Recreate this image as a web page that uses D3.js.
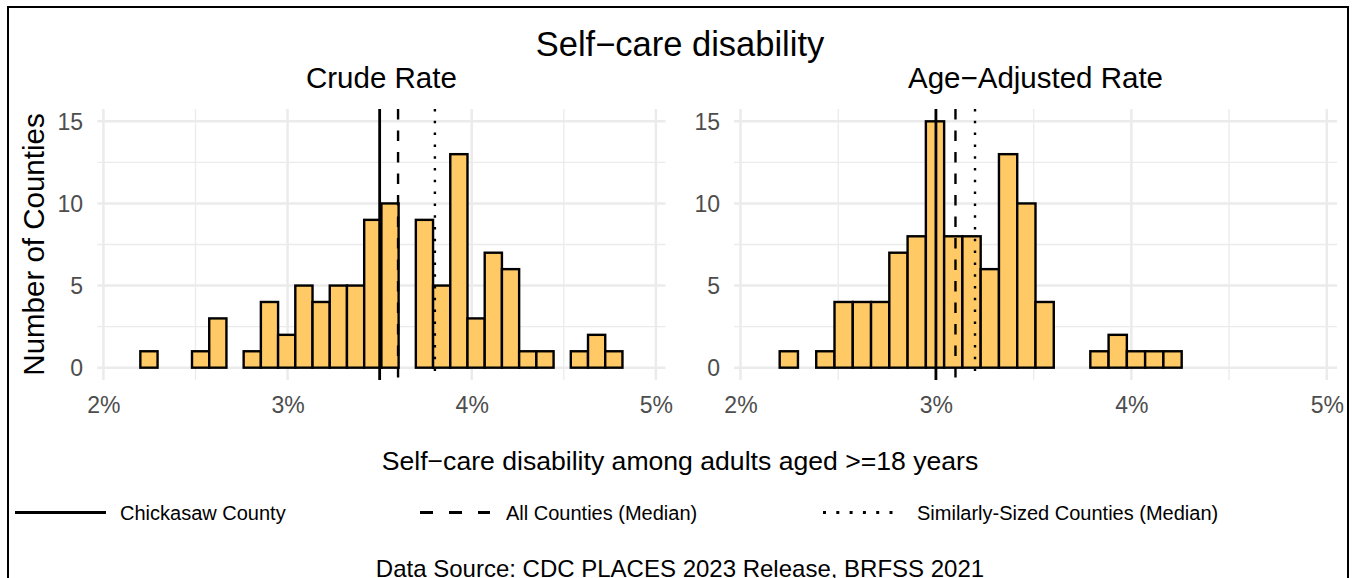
<!DOCTYPE html>
<html>
<head>
<meta charset="utf-8">
<script src="https://cdn.jsdelivr.net/npm/d3@7"></script>
<style>
  html, body { margin: 0; padding: 0; background: #fff; }
  svg { display: block; font-family: "Liberation Sans", Arial, sans-serif; }
</style>
</head>
<body>
<svg id="chart" width="1353" height="578"></svg>
<script>
// ---- data ----
const chartTitle = "Self\u2212care disability";
const panelTitles = ["Crude Rate", "Age\u2212Adjusted Rate"];
const binMin = 2.107;
const binMax = 4.912;
const binCountN = 30;
const crudeCounts = [0,1,0,0,1,3,0,1,4,2,5,4,5,5,9,10,0,9,5,13,3,7,6,1,1,0,1,2,1,0];
const ageAdjCounts = [0,1,0,1,4,4,4,7,8,15,8,8,6,13,10,4,0,0,1,2,1,1,1,0,0,0,0,0,0,0];
const crudeRefs = [3.5, 3.6, 3.8];      // county, all median, similar median
const ageAdjRefs = [3.0, 3.1, 3.2];
const xTicks = [2, 3, 4, 5];
const xMinor = [2.5, 3.5, 4.5];
const yTicks = [0, 5, 10, 15];
const yMinor = [2.5, 7.5, 12.5];
const legendLabels = ["Chickasaw County", "All Counties (Median)", "Similarly-Sized Counties (Median)"];
const xTitle = "Self\u2212care disability among adults aged >=18 years";
const yTitle = "Number of Counties";
const caption = "Data Source: CDC PLACES 2023 Release, BRFSS 2021";

// ---- drawing ----
const svg = d3.select("#chart");
const fillColor = "#FFC966";
const gridColor = "#EBEBEB";
const tickColor = "#4D4D4D";
const dashStyles = [null, "10.5,11", "2.5,9.3"];

// outer border
svg.append("rect").attr("x", 8).attr("y", 7).attr("width", 1340).attr("height", 620)
  .attr("fill", "none").attr("stroke", "#000").attr("stroke-width", 2);

svg.append("text").attr("x", 680).attr("y", 56).attr("text-anchor", "middle")
  .attr("font-size", 34.5).attr("fill", "#000").text(chartTitle);

const binW = (binMax - binMin) / binCountN;
const expand = (binMax - binMin) * 0.05;

const panels = [
  {title: panelTitles[0], counts: crudeCounts, refs: crudeRefs, left: 97.3, right: 665.5, labelX: 83},
  {title: panelTitles[1], counts: ageAdjCounts, refs: ageAdjRefs, left: 734, right: 1337, labelX: 720}
];
const panelTop = 109, panelBottom = 380;

panels.forEach(p => {
  const x = d3.scaleLinear().domain([binMin - expand, binMax + expand]).range([p.left, p.right]);
  const y = d3.scaleLinear().domain([-0.75, 15.75]).range([panelBottom, panelTop]);
  const g = svg.append("g");

  // minor grid
  yMinor.forEach(v => g.append("line").attr("x1", p.left).attr("x2", p.right)
    .attr("y1", y(v)).attr("y2", y(v)).attr("stroke", gridColor).attr("stroke-width", 1.3));
  xMinor.forEach(v => g.append("line").attr("x1", x(v)).attr("x2", x(v))
    .attr("y1", panelTop).attr("y2", panelBottom).attr("stroke", gridColor).attr("stroke-width", 1.3));
  // major grid
  yTicks.forEach(v => g.append("line").attr("x1", p.left).attr("x2", p.right)
    .attr("y1", y(v)).attr("y2", y(v)).attr("stroke", gridColor).attr("stroke-width", 2.5));
  xTicks.forEach(v => g.append("line").attr("x1", x(v)).attr("x2", x(v))
    .attr("y1", panelTop).attr("y2", panelBottom).attr("stroke", gridColor).attr("stroke-width", 2.5));

  // bars
  const bins = p.counts.map((c, i) => ({x0: binMin + i * binW, x1: binMin + (i + 1) * binW, c}));
  g.selectAll("rect.bar").data(bins).enter().append("rect").attr("class", "bar")
    .attr("x", d => x(d.x0)).attr("width", d => x(d.x1) - x(d.x0))
    .attr("y", d => y(d.c)).attr("height", d => y(0) - y(d.c))
    .attr("fill", fillColor).attr("stroke", "#000").attr("stroke-width", 2.4);

  // reference lines
  p.refs.forEach((v, i) => {
    const ln = g.append("line").attr("x1", x(v)).attr("x2", x(v)).attr("y1", panelTop).attr("y2", panelBottom)
      .attr("stroke", "#000").attr("stroke-width", i === 0 ? 2.8 : 2.4);
    if (dashStyles[i]) ln.attr("stroke-dasharray", dashStyles[i]);
  });

  // axes (labels only)
  const xAxis = d3.axisBottom(x).tickValues(xTicks).tickFormat(d => d + "%").tickSize(0).tickPadding(0);
  const xa = svg.append("g").attr("transform", `translate(0, ${panelBottom + 33})`).call(xAxis);
  xa.select(".domain").remove();
  xa.selectAll("text").attr("font-size", 23).attr("fill", tickColor)
    .attr("font-family", "Liberation Sans, Arial, sans-serif").attr("dy", 0);

  const yAxis = d3.axisLeft(y).tickValues(yTicks).tickSize(0).tickPadding(0);
  const ya = svg.append("g").attr("transform", `translate(${p.labelX}, 0)`).call(yAxis);
  ya.select(".domain").remove();
  ya.selectAll("text").attr("font-size", 23).attr("fill", tickColor)
    .attr("font-family", "Liberation Sans, Arial, sans-serif").attr("dy", "0.36em");

  svg.append("text").attr("x", (p.left + p.right) / 2).attr("y", 88).attr("text-anchor", "middle")
    .attr("font-size", 29.5).attr("fill", "#000").text(p.title);
});

// y title
svg.append("text").attr("transform", `translate(44, ${(panelTop + panelBottom) / 2}) rotate(-90)`)
  .attr("text-anchor", "middle").attr("font-size", 29.5).attr("fill", "#000").text(yTitle);

// x title
svg.append("text").attr("x", 680).attr("y", 470).attr("text-anchor", "middle")
  .attr("font-size", 26.6).attr("fill", "#000").text(xTitle);

// legend
const legendItems = [
  {x1: 15, x2: 106, tx: 120, dash: null, w: 3.2},
  {x1: 420, x2: 490, tx: 506, dash: "13,16", w: 3.2},
  {x1: 823, x2: 902, tx: 917, dash: "3,10.3", w: 3.2}
];
legendItems.forEach((it, i) => {
  const ln = svg.append("line").attr("x1", it.x1).attr("x2", it.x2).attr("y1", 512.5).attr("y2", 512.5)
    .attr("stroke", "#000").attr("stroke-width", it.w);
  if (it.dash) ln.attr("stroke-dasharray", it.dash);
  svg.append("text").attr("x", it.tx).attr("y", 519.5).attr("font-size", 20).attr("fill", "#000")
    .text(legendLabels[i]);
});

// caption
svg.append("text").attr("x", 680).attr("y", 577).attr("text-anchor", "middle")
  .attr("font-size", 24).attr("fill", "#000").text(caption);
</script>
</body>
</html>
